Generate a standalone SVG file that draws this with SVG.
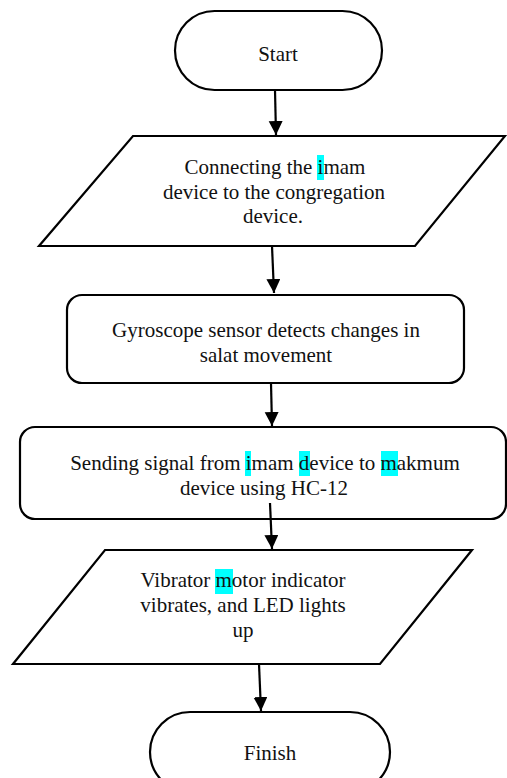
<svg xmlns="http://www.w3.org/2000/svg" width="507" height="778" viewBox="0 0 507 778">
<style>
.shape{fill:#fff;stroke:#000;stroke-width:2.2}
.t{font-family:"Liberation Serif","Times New Roman",serif;font-size:21px;fill:#111;text-anchor:middle}
.hl{fill:#00FFFF}
.c line{stroke:#000;stroke-width:2.2}
</style>
<defs>
<marker id="ah" markerUnits="userSpaceOnUse" markerWidth="16" markerHeight="16" refX="14" refY="7" orient="auto">
<path d="M0,0 L14,7 L0,14 Z" fill="#000"/>
</marker>
</defs>
<rect width="507" height="778" fill="#fff"/>
<g id="start">
<rect class="shape" x="175" y="11" width="207" height="79" rx="39.5" ry="39.5"/>
<text class="t" x="278" y="61">Start</text>
</g>
<g id="connect">
<polygon class="shape" points="133,136 505,136 415,246 39,246"/>
<rect class="hl" x="317" y="155" width="7" height="25"/>
<text class="t" x="275" y="174">Connecting the imam</text>
<text class="t" x="274" y="199">device to the congregation</text>
<text class="t" x="273" y="223">device.</text>
</g>
<g id="gyro">
<rect class="shape" x="67" y="295" width="397" height="88" rx="15" ry="15"/>
<text class="t" x="266" y="337">Gyroscope sensor detects changes in</text>
<text class="t" x="266" y="362">salat movement</text>
</g>
<g id="send">
<rect class="shape" x="20" y="427" width="486" height="92" rx="15" ry="15"/>
<rect class="hl" x="245" y="451" width="6" height="25"/>
<rect class="hl" x="299" y="451" width="11" height="25"/>
<rect class="hl" x="381" y="451" width="17" height="25"/>
<text class="t" x="265" y="470">Sending signal from imam device to makmum</text>
<text class="t" x="264" y="495">device using HC-12</text>
</g>
<g id="vibrate">
<polygon class="shape" points="105,550 472,550 380,664 13,664"/>
<rect class="hl" x="215" y="569" width="18" height="25"/>
<text class="t" x="243" y="587">Vibrator motor indicator</text>
<text class="t" x="243" y="612">vibrates, and LED lights</text>
<text class="t" x="243" y="637">up</text>
</g>
<g id="finish">
<rect class="shape" x="150" y="712" width="240" height="80" rx="40" ry="40"/>
<text class="t" x="270" y="760">Finish</text>
</g>
<g class="c" id="connectors">
<line x1="275" y1="90" x2="276" y2="135" marker-end="url(#ah)"/>
<line x1="272" y1="246" x2="274" y2="293" marker-end="url(#ah)"/>
<line x1="271" y1="383" x2="272" y2="426" marker-end="url(#ah)"/>
<line x1="270" y1="503" x2="272" y2="549" marker-end="url(#ah)"/>
<line x1="259" y1="664" x2="261" y2="711" marker-end="url(#ah)"/>
</g>
</svg>
